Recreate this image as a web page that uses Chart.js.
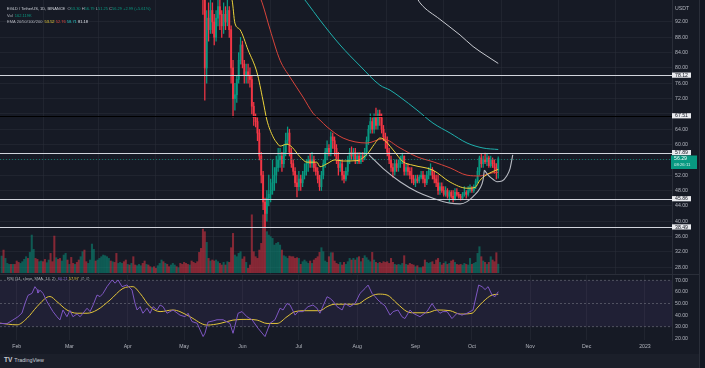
<!DOCTYPE html>
<html><head><meta charset="utf-8">
<script src="https://cdn.jsdelivr.net/npm/chart.js@4.4.1/dist/chart.umd.min.js"></script>
<style>
html,body{margin:0;padding:0;background:#161a25;width:705px;height:368px;overflow:hidden;}
canvas{position:absolute;left:0;display:block;}
#c1{top:0;}
#c2{top:274px;}
#foot{position:absolute;left:0;top:354px;width:705px;height:14px;background:#1b1f2a;}
#logo{position:absolute;left:4px;top:356px;font:5.4px "Liberation Sans",Arial,sans-serif;color:#c9ccd4;white-space:nowrap;}
#logo b{font-size:6.5px;margin-right:2px;}
#edge{position:absolute;left:699px;top:0;width:6px;height:368px;background:#131722;border-left:1px solid #2a2e39;}
</style></head>
<body>
<canvas id="c1" width="705" height="274"></canvas>
<canvas id="c2" width="705" height="94"></canvas>
<div id="foot"></div>
<div id="logo"><b>TV</b>TradingView</div>
<div id="edge"></div>
<script>
// ---------------- DATA ----------------
const monthNames = ['Feb','Mar','Apr','May','Jun','Jul','Aug','Sep','Oct','Nov','Dec','2023'];
const monthDays  = [0,28,59,89,120,150,181,212,242,273,303,334]; // days since 1 Feb 2022
const priceTicks = [28,32,36,40,44,48,52,56,60,64,68,72,76,80,84,88,92];
const rsiTicks = [20,30,40,50,60,70];
const levels = [78.12, 67.51, 57.89, 45.86, 38.49];

// daily volume (K), first bar = day -8
const volStartDay = -8;
const volumes = [316,430,272,177,158,158,158,158,222,196,
177,209,253,304,272,386,715,443,272,253,
209,222,209,253,190,241,367,209,696,285,
253,272,222,335,367,241,158,291,177,158,
196,241,304,399,430,209,177,241,544,443,
222,241,272,304,335,323,304,272,222,209,
196,367,177,196,177,209,241,158,146,177,
304,146,133,158,133,177,222,158,146,114,
95,114,82,133,177,241,209,177,158,114,
146,177,146,114,95,177,158,196,177,158,
146,222,196,177,209,386,462,
829,779,576,272,222,241,222,241,209,177,
146,196,146,209,196,475,747,335,304,367,
399,260,304,196,82,146,
1100,399,304,272,430,557,1100,1300,779,715,
684,652,525,557,576,525,430,323,304,272,
316,304,304,272,285,272,158,209,241,209,
177,222,177,241,272,304,386,475,399,222,
196,304,380,380,222,177,158,196,146,196,
158,209,272,241,272,241,285,304,209,272,
323,285,241,209,386,241,196,177,196,177,
209,196,209,177,272,196,158,146,158,146,
177,323,158,146,177,158,146,114,133,95,
95,114,241,196,177,196,209,158,241,272,
196,146,177,209,158,177,222,241,196,158,
146,158,146,177,158,146,272,158,177,196,
367,494,304,222,196,158,196,304,241,209,
380,162.119];
// up/down for days before visible candles
const volDirEarly = "uduuududdd"+"uuuuduuudd"+"uudduudddu"+"dduuududdu"+"dduudduuuu"+
  "duuuuuuudu"+"dduuuddudu"+"dduuuddudd"+"udduuududd"+"uuududdddd"+"udddddd";

// candles from day 98 (10 May 2022)
const candleStartDay = 98;
const firstOpen = 118;
const closes = [108,98,80,93,90,95,92,88,93,96,
94,91,94,92,95,90,80,72,73,77,
82,86,81,78,79,78,77,70,67,66,
63,57,52,45,42,46,47,48,50,52,
54,56,57,55,58,61,63,58,55,53,
50,49,51,50,52,53,55,56,55,56,
54,53,51,49,52,55,58,59,58,62,
61,59,56,54,55,52,51,53,56,58,
57,58,56,57,55.5,57,56.5,58,61,64,
66,64,67,65,68,67,64,62,61,58,
56,54,53,55,54,55,56,57,53,54,
53,52,51,50,51,50.5,51.5,52,51,50,
52,53,53.5,52,51,50,48,49,48,47,
48,46.5,47.5,46.5,45.8,47.5,47,46.5,46,47,
47.5,47,48,48.5,48,49,50.5,53,56.5,55,
56,55.5,56.5,54.5,56,55,54,53.3,56.29];
const highs = [120,110,99,95,97,99,97,94,95,99,
98,95,97,96,98,96,91,82,76,78,
84,88,87,82,81,81,80,78,71,68,
67,64,58,53,46,48,52,51,56,54,
57,59,59,58,60,63,64.6,64,59,56,
54,52,53,52,53,55,56,57,57.5,58,
57,55,54,52,53,56,59,61,60,63.3,
63,62,60,58,56,56,53,54,57,59,
59.4,59,59,58,58,58,58,59,62,65,
68,67,68,69.5,69,69,68,65,63,62,
59,57,55,56,56,56,57,57.8,57,55,
55,54,54,52,52,52,52,53,53,52,
53,54,55,54,53,52,52,50,50,49,
49,48.5,48,48,48,48.5,48.5,47.5,47,47.5,
49,48,49,49.5,49,49.5,51,54,57,57.5,
57,57.8,57.5,57,57,56.5,56,55,56.79];
const lows = [105,94,71.6,76,87,89,89,86,87,91,
90,88,89,90,91,88,76,67.2,69,71,
76,81,80,76,76,76,75,68,65,64.6,
61,56,50,43,38.5,40,44,45,47,48,
50,53,54,53,54,57,60,57,54,52,
49,46.3,48,48,49,51,52,53,54,54,
53,52,50,48,48,51,54,56,57,57,
59,57,55,52,53,50.7,50,50.5,52,55,
56,56,55,55,55,55,55.5,56,57,60,
63,63,63,64,64,65,63,61,59,57,
55,53,51.5,52,53,53,54,55,52,52,
52,51,50,49.5,49,50,50,51,50,49,
49.5,51,52,51,50,49,47,47,47.5,46.5,
46.5,46,45,46,45,45.5,46.5,46,45.5,45.8,
46.5,46,46.5,47.5,47.5,47.5,48.5,50,52,54,
54,55,54.5,54,54,54,52.5,51,51.25];

// EMA 20 / 50 / 100 / 200
const ema20Days = [110,114.5,116,118.7,123,127.8,130.9,133,136.3,138.4,140,143.7,146.4,150.6,154.3,159.6,161.2,165,169.2,173.5,180.9,186.8,190,193.1,194.7,200.1,205.4,210.7,221.3,230.4,239.4,243.7,246.3,251.6,256];
const ema20Vals = [101,97.7,91.7,90,84.7,78.7,71.6,66.4,62,60.4,59.6,60.1,59.3,56.8,55.4,55.4,54.2,55,56,55.7,55.8,57.8,60,61.7,61.5,58.6,55.5,54.6,53.3,50.2,48.6,48.8,50.7,52.6,53.52];
const ema50Days = [128,130.5,134.7,140,145.3,152.2,157.5,161.2,165,173.5,186.2,194.7,203.8,212.8,221.3,230.4,239.4,246.3,252.7,256];
const ema50Vals = [100,97,90,82,77.6,72.4,68.2,66.4,64.6,61.7,60.4,61.5,59.1,56.8,55.5,53.9,52,51.8,52.6,52.76];
const ema100Days = [152,154.4,161.2,171.9,182.6,193.1,198.5,203.8,212.8,221.3,230.4,239.4,247.9,256];
const ema100Vals = [98.5,97,92.5,86,80.5,75.5,74.2,72.4,69,65.6,63,60.4,59.1,58.71];
const ema200Days = [212,214.4,225,235.7,242.6,250,256];
const ema200Vals = [99,97,92.7,88.6,85.6,83.1,81.18];

// hand-drawn cup and handle
const cupDays = [187.3,194.7,203.8,212.8,221.3,230.4,235.7,239.4,242.6,246.3,247.9,248.6];
const cupPrices = [57.3,53.8,50.3,47.7,46,44.7,44.5,45.1,46.4,48.6,50.7,53.3];
const handleDays = [248.6,251,253.5,255.3,258,260.5,262.3,263.7];
const handlePrices = [53.3,51.8,50.8,50.3,50.5,51.8,53.8,57.3];

// RSI 14 and its SMA 14
const rsiDays = [-8.9,-5.2,-2,0.7,2.8,4.4,6,8.1,9.7,10.8,11.3,12.4,14,16.1,17.7,19.3,21.4,23,24.6,26.7,28.3,29.9,32.1,33.7,37.4,39,40.6,42.7,44.3,45.9,48,50.7,52.3,53.9,56,58.6,61.3,62.9,64,65.6,67.1,69.3,70.9,72.5,74.6,76.2,77.8,79.9,83.1,86.8,89.5,91.1,93.2,95.9,97.5,99.1,100.1,101.7,104.4,106.5,109.7,113.4,115,117.7,119.8,122.4,125.1,128.3,132,134.7,137.3,140,141.6,143.7,145.3,148,149.6,152.2,154.9,157.5,159.6,161.2,165,166.6,168.2,170.3,173,174.5,177.2,179.9,182.5,185.2,186.8,188.9,190.5,192.1,194.2,195.8,198.5,200.1,202.7,204.8,206.4,209.1,210.7,214.4,218.1,220.8,222.4,225,226.6,228.8,231.4,234.1,236.7,239.4,242.6,245.6,247.4,249,250.6,252.7,254.3,256];
const rsiVals = [32.9,32.6,35.8,38.6,41.8,50,57,58.7,64.5,62,59,61.5,58.7,51.6,47.3,43,38.6,35.8,44.4,38.6,44,38.6,41,38.6,45.9,43,48.6,57.3,55.9,58.7,64.5,70.3,67.5,70.3,64.5,66,61.6,50.1,44.4,47.3,41.6,46,41.6,47.3,44.4,48.7,47.3,41.6,44.4,40,38.6,41.6,34.4,33,27.2,21.5,24.4,34,35,36,36,32.8,24.3,41.6,43,38.6,36,28.7,21.5,33,36,46,44.4,50,48.7,40,43,43,47.3,48.7,46,41.6,55.8,54.4,52,47.3,44.4,50,47.3,50,58.7,63,65.9,58.7,56,52.9,50,48,40,43,44.4,38.6,37,44.4,41.6,38.6,43,50,46,41.6,43,43,37,41.6,40,41.6,44.4,65.9,64.5,62,64.5,57.3,55.9,60.21];
const rsiMaDays = [-8.9,0.2,5.5,10.8,16.1,17.7,21.4,26.7,32.1,37.4,42.7,49.6,56.5,61.8,65.6,70.9,76.2,83.1,86.8,92.1,101.2,108.1,115,122.4,127.8,133.1,138.4,143.7,148,154.3,161.2,165,169.2,180.9,186.2,192.1,196.9,202.2,207.5,210.7,218.1,223.5,230.4,235.7,242.1,244.7,247.9,252.7,256];
const rsiMaVals = [33,31.6,37.3,47.3,55.4,56,51.6,44.4,41.6,41.6,44.4,53,63,64.5,58.7,47.3,43,44.4,43,38.6,31.4,32.8,35.7,36.3,35.7,32.8,32.8,38.6,43,43.8,43.8,47.3,49.4,49.4,54.4,58.1,57.3,50,43,42,42,44.4,43.8,40.9,41.6,46,51.5,57.3,57.97];

// ---------------- STYLE / BUILD ----------------
const FONT = '"Liberation Sans", Arial, sans-serif';
const TEAL = '#089981', RED = '#f23645';
const TEAL_V = 'rgba(8,153,129,0.5)', RED_V = 'rgba(242,54,69,0.5)';
const GRID = 'rgba(42,46,57,0.55)';
const TXT = '#b2b5be';
const X_MIN = -8.88, X_MAX = 348.37;

const opens = closes.map((c, i) => i === 0 ? firstOpen : closes[i - 1]);
const candleUp = closes.map((c, i) => c >= opens[i]);
const pts = (xs, ys) => xs.map((x, i) => ({x: x, y: ys[i]}));

const volData = volumes.map((v, i) => ({x: volStartDay + i, y: v}));
const volColors = volumes.map((v, i) => {
  const d = volStartDay + i;
  const ci = d - candleStartDay;
  const up = ci >= 0 && ci < closes.length ? candleUp[ci] : volDirEarly[i] === 'u';
  return up ? TEAL_V : RED_V;
});
const wickData = closes.map((c, i) => ({x: candleStartDay + i, y: [lows[i], highs[i]]}));
const bodyData = closes.map((c, i) => ({x: candleStartDay + i, y: [opens[i], c]}));
const candleColors = candleUp.map(u => u ? TEAL : RED);

const lineDs = (data, color, order, w) => ({type: 'line', data, borderColor: color, borderWidth: w || 1,
  pointRadius: 0, cubicInterpolationMode: 'monotone', yAxisID: 'y', order});

const n = closes.length;
const last = v => v[v.length - 1];
const fmt = v => v.toFixed(2);

function segs(ctx, x, y, list, size) {
  ctx.font = size + 'px ' + FONT; ctx.textBaseline = 'middle'; ctx.textAlign = 'left';
  for (const [t, c] of list) { ctx.fillStyle = c; ctx.fillText(t, x, y); x += ctx.measureText(t).width; }
}

const mainOverlay = {
  id: 'mainOverlay',
  afterDatasetsDraw(chart) {
    const ctx = chart.ctx, ys = chart.scales.y, a = chart.chartArea;
    ctx.save();
    // horizontal levels
    const lvlColors = ['#d1d4dc', '#000000', '#d1d4dc', '#d1d4dc', '#d1d4dc'];
    levels.forEach((v, i) => {
      const y = Math.round(ys.getPixelForValue(v)) + 0.5;
      ctx.strokeStyle = lvlColors[i]; ctx.lineWidth = 1;
      ctx.beginPath(); ctx.moveTo(a.left, y); ctx.lineTo(a.right, y); ctx.stroke();
    });
    // current price dotted line
    const lastC = closes[n - 1];
    const py = Math.round(ys.getPixelForValue(lastC)) + 0.5;
    ctx.strokeStyle = 'rgba(8,153,129,0.7)'; ctx.setLineDash([1, 2]);
    ctx.beginPath(); ctx.moveTo(a.left, py); ctx.lineTo(a.right, py); ctx.stroke();
    ctx.setLineDash([]);
    // price axis labels
    ctx.font = '5.2px ' + FONT; ctx.textBaseline = 'middle'; ctx.textAlign = 'left';
    ctx.fillStyle = TXT;
    ctx.fillText('USDT', a.right + 3, 8.5);
    const boxYs = levels.map(v => ys.getPixelForValue(v)).concat([py + 2.5]);
    priceTicks.forEach(v => {
      const y = ys.getPixelForValue(v);
      if (boxYs.some(b => Math.abs(b - y) < 5)) return;
      ctx.fillText(v.toFixed(2), a.right + 3, y);
    });
    // level boxes
    levels.forEach(v => {
      const y = ys.getPixelForValue(v);
      ctx.fillStyle = '#e9eaee'; ctx.fillRect(a.right, y - 2.6, 19, 5.2);
      ctx.fillStyle = '#131722'; ctx.textAlign = 'center';
      ctx.fillText(fmt(v), a.right + 9.5, y + 0.2);
    });
    // last price box
    ctx.fillStyle = TEAL; ctx.fillRect(a.right - 1, py - 4, 26, 13.5);
    ctx.fillStyle = '#ffffff'; ctx.textAlign = 'left';
    ctx.fillText(fmt(lastC), a.right + 2, py - 0.6);
    ctx.font = '4.3px ' + FONT; ctx.fillStyle = '#d8f0ea';
    ctx.fillText('08:26:11', a.right + 2, py + 5.5);
    // header
    const O = opens[n - 1], H = highs[n - 1], L = lows[n - 1], C = closes[n - 1];
    const ch = C - closes[n - 2];
    const pct = ch / closes[n - 2] * 100;
    const sg = ch >= 0 ? '+' : '\u2212';
    segs(ctx, 7, 9, [['EGLD / TetherUS, 1D, BINANCE  ', '#d1d4dc'], ['O', TXT], [fmt(O), TEAL], [' H', TXT], [fmt(H), TEAL],
      [' L', TXT], [fmt(L), TEAL], [' C', TXT], [fmt(C), TEAL], [' ' + sg + Math.abs(ch).toFixed(2) + ' (' + sg + Math.abs(pct).toFixed(2) + '%)', TEAL]], 4);
    segs(ctx, 7, 15.5, [['Vol  ', TXT], [last(volumes).toFixed(3) + 'K', TEAL]], 4);
    segs(ctx, 7, 22, [['EMA 20/50/100/200  ', TXT], [fmt(last(ema20Vals)), '#f0d43c'], [' ', TXT], [fmt(last(ema50Vals)), '#e04a40'],
      [' ', TXT], [fmt(last(ema100Vals)), '#25c1c1'], [' ', TXT], [fmt(last(ema200Vals)), '#e0e3eb']], 4);
    ctx.restore();
  }
};

new Chart(document.getElementById('c1'), {
  type: 'bar',
  data: {
    datasets: [
      {type: 'bar', data: volData, backgroundColor: volColors, yAxisID: 'vol', barThickness: 1.4, grouped: false, order: 30},
      {type: 'bar', data: wickData, backgroundColor: candleColors, yAxisID: 'y', barThickness: 0.6, grouped: false, order: 20},
      {type: 'bar', data: bodyData, backgroundColor: candleColors, yAxisID: 'y', barThickness: 1.25, grouped: false, minBarLength: 0.6, order: 19},
      lineDs(pts(ema200Days, ema200Vals), '#c9cbd1', 8),
      lineDs(pts(ema100Days, ema100Vals), '#1fb0ad', 7),
      lineDs(pts(ema50Days, ema50Vals), '#d8443b', 6),
      lineDs(pts(ema20Days, ema20Vals), '#eed43a', 5),
      lineDs(pts(cupDays, cupPrices), '#b8bbc3', 2, 1.1),
      lineDs(pts(handleDays, handlePrices), '#b8bbc3', 1, 1.1)
    ]
  },
  options: {
    responsive: false, animation: false, events: [],
    layout: {padding: 0},
    plugins: {legend: {display: false}, tooltip: {enabled: false}},
    scales: {
      x: {type: 'linear', min: X_MIN, max: X_MAX, offset: false,
        afterBuildTicks: s => { s.ticks = monthDays.map(v => ({value: v})); },
        afterFit: s => { s.height = 0; },
        ticks: {display: false}, grid: {color: GRID, drawTicks: false}, border: {display: false}},
      y: {type: 'linear', position: 'right', min: 26.2, max: 97.74,
        afterBuildTicks: s => { s.ticks = priceTicks.map(v => ({value: v})); },
        afterFit: s => { s.width = 33; },
        ticks: {display: false}, grid: {color: GRID, drawTicks: false}, border: {display: true, color: '#2a2e39'}},
      vol: {type: 'linear', position: 'left', display: false, min: -25, max: 5181}
    }
  },
  plugins: [mainOverlay]
});

// ---------------- RSI pane ----------------
const rsiOverlay = {
  id: 'rsiOverlay',
  beforeDatasetsDraw(chart) {
    const ctx = chart.ctx, ys = chart.scales.y, a = chart.chartArea;
    ctx.save();
    const y70 = ys.getPixelForValue(70), y30 = ys.getPixelForValue(30), y50 = ys.getPixelForValue(50);
    ctx.fillStyle = 'rgba(126,87,194,0.1)';
    ctx.fillRect(a.left, y70, a.right - a.left, y30 - y70);
    ctx.strokeStyle = 'rgba(120,123,134,0.7)'; ctx.lineWidth = 0.8; ctx.setLineDash([2, 2]);
    [y70, y50, y30].forEach(y => { ctx.beginPath(); ctx.moveTo(a.left, y); ctx.lineTo(a.right, y); ctx.stroke(); });
    ctx.setLineDash([]);
    ctx.strokeStyle = '#2a2e39'; ctx.lineWidth = 1;
    ctx.beginPath(); ctx.moveTo(0, 0.5); ctx.lineTo(chart.width, 0.5); ctx.stroke();
    ctx.restore();
  },
  afterDatasetsDraw(chart) {
    const ctx = chart.ctx, ys = chart.scales.y, a = chart.chartArea;
    ctx.save();
    ctx.font = '5.2px ' + FONT; ctx.textBaseline = 'middle'; ctx.textAlign = 'left'; ctx.fillStyle = TXT;
    rsiTicks.forEach(v => ctx.fillText(v.toFixed(2), a.right + 3, ys.getPixelForValue(v)));
    segs(ctx, 7, 4.5, [['RSI (14, close, SMA, 14, 2)  ', TXT], [fmt(last(rsiVals)), '#8e6ad6'], [' ', TXT],
      [fmt(last(rsiMaVals)), '#e8c93a'], ['  \u2205  \u2205', TXT]], 4);
    ctx.restore();
  }
};

new Chart(document.getElementById('c2'), {
  type: 'line',
  data: {
    datasets: [
      {data: pts(rsiMaDays, rsiMaVals), borderColor: '#e3c53a', borderWidth: 1, pointRadius: 0, cubicInterpolationMode: 'monotone', order: 2},
      {data: pts(rsiDays, rsiVals), borderColor: '#7e57c2', borderWidth: 1, pointRadius: 0, tension: 0, order: 1}
    ]
  },
  options: {
    responsive: false, animation: false, events: [],
    layout: {padding: 0},
    plugins: {legend: {display: false}, tooltip: {enabled: false}},
    scales: {
      x: {type: 'linear', min: X_MIN, max: X_MAX, offset: false,
        afterBuildTicks: s => { s.ticks = monthDays.map(v => ({value: v})); },
        afterFit: s => { s.height = 28; },
        ticks: {autoSkip: false, maxRotation: 0, minRotation: 0, padding: 3, color: TXT,
          font: {size: 5.2, family: FONT},
          callback: v => { const k = monthDays.indexOf(v); return k >= 0 ? monthNames[k] : ''; }},
        grid: {color: GRID, drawTicks: false}, border: {display: false}},
      y: {type: 'linear', position: 'right', min: 18.53, max: 75.43,
        afterBuildTicks: s => { s.ticks = rsiTicks.map(v => ({value: v})); },
        afterFit: s => { s.width = 33; },
        ticks: {display: false}, grid: {display: false}, border: {display: true, color: '#2a2e39'}}
    }
  },
  plugins: [rsiOverlay]
});
</script>
</body></html>
